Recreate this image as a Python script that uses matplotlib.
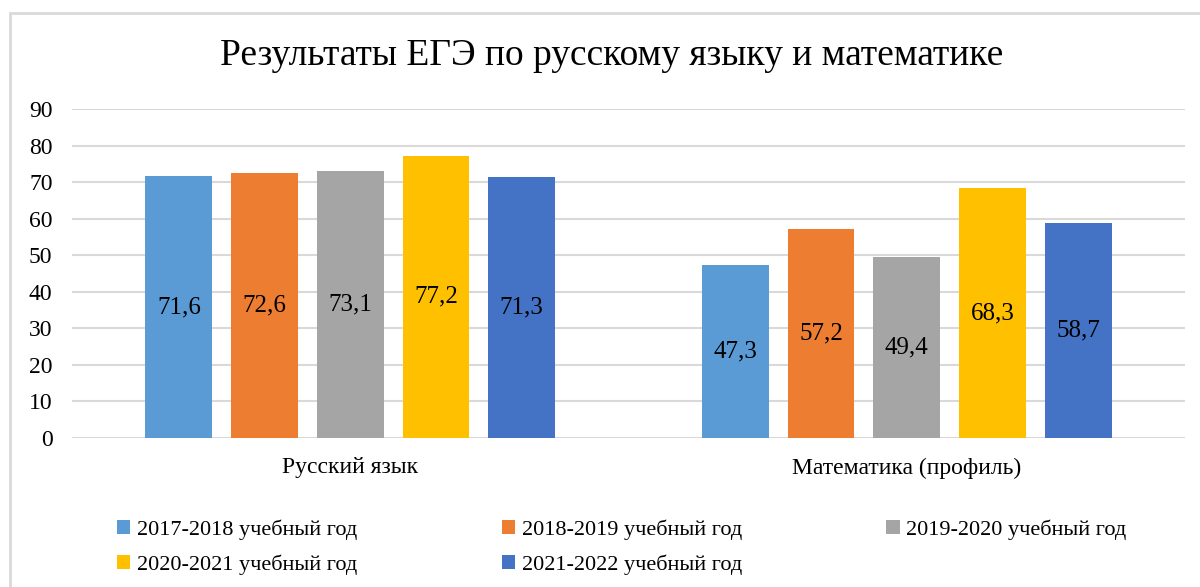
import numpy as np
import matplotlib.pyplot as plt
from matplotlib.patches import Rectangle

plt.rcParams['font.family'] = ['Liberation Serif', 'DejaVu Serif']

categories = ['Русский язык', 'Математика (профиль)']
years = ['2017-2018 учебный год', '2018-2019 учебный год', '2019-2020 учебный год',
         '2020-2021 учебный год', '2021-2022 учебный год']
values = [
    [71.6, 47.3],
    [72.6, 57.2],
    [73.1, 49.4],
    [77.2, 68.3],
    [71.3, 58.7],
]
labels = [
    ['71,6', '47,3'],
    ['72,6', '57,2'],
    ['73,1', '49,4'],
    ['77,2', '68,3'],
    ['71,3', '58,7'],
]
colors = ['#5B9BD5', '#ED7D31', '#A5A5A5', '#FFC000', '#4472C4']

fig = plt.figure(figsize=(12, 5.87), dpi=100)
ax = fig.add_axes([0.06, 0.2538, 0.9275, 0.5605])

x = np.arange(len(categories))
width = 0.12
pitch = 0.154
bars = []
for i, (yr, vals) in enumerate(zip(years, values)):
    pos = x + (i - 2) * pitch
    b = ax.bar(pos, vals, width, color=colors[i], label=yr, zorder=2)
    bars.append(b)
    ax.bar_label(b, labels=labels[i], label_type='center', fontsize=18, zorder=3)

ax.set_xlim(-0.5, 1.5)
ax.set_ylim(0, 90)
ax.set_yticks(range(0, 91, 10))
ax.set_xticks(x)
ax.set_xticklabels(categories, fontsize=17)
ax.tick_params(axis='y', labelsize=17, length=0, pad=14)
ax.tick_params(axis='x', length=0, pad=14)
ax.yaxis.grid(True, color='#d9d9d9', linewidth=1.5, zorder=0)
ax.set_axisbelow(True)
for s in ax.spines.values():
    s.set_visible(False)

fig.text(0.51, 0.905, 'Результаты ЕГЭ по русскому языку и математике',
         ha='center', va='center', fontsize=27)

# row-major order for a 3-column legend
order = [0, 3, 1, 4, 2]
fig.legend([bars[k] for k in order], [years[k] for k in order],
           loc='upper left', bbox_to_anchor=(0.09, 0.13), ncol=3, frameon=False,
           fontsize=16, handlelength=0.6, handleheight=0.6, handletextpad=0.3,
           columnspacing=6.5, labelspacing=0.65, borderaxespad=0)

fig.patches.append(Rectangle((10 / 1200, -0.1), 1.2, 1 - 13 / 587 + 0.1,
                             transform=fig.transFigure, fill=False,
                             edgecolor='#d9d9d9', linewidth=2))

fig.savefig('out.png', dpi=100)
